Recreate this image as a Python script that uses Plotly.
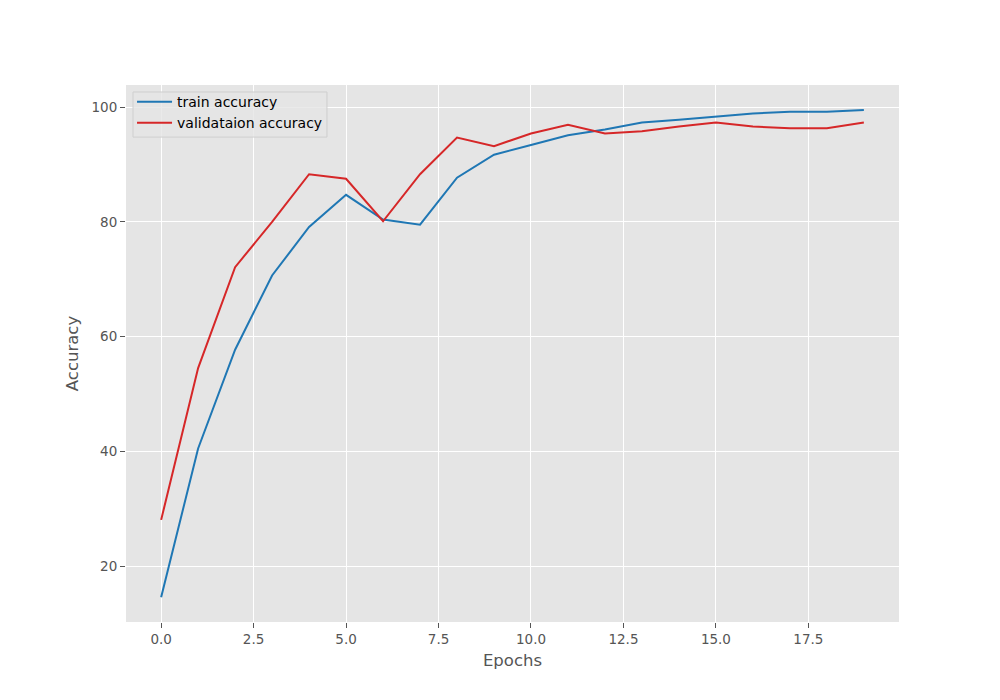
import plotly.graph_objects as go

epochs = list(range(20))
train_acc = [14.55, 40.5, 57.7, 70.65, 79.1, 84.7, 80.4, 79.5, 87.7, 91.7,
             93.4, 95.1, 96.1, 97.3, 97.8, 98.3, 98.9, 99.2, 99.2, 99.5]
val_acc = [28.05, 54.5, 72.1, 80.0, 88.3, 87.5, 80.1, 88.3, 94.7, 93.2,
           95.4, 96.9, 95.4, 95.8, 96.6, 97.3, 96.6, 96.3, 96.3, 97.3]
x_ticks = [0, 2.5, 5, 7.5, 10, 12.5, 15, 17.5]
y_ticks = [20, 40, 60, 80, 100]

fig = go.Figure()
fig.add_trace(go.Scatter(x=epochs, y=train_acc, mode="lines", name="train accuracy",
                         line=dict(color="#1f77b4", width=2)))
fig.add_trace(go.Scatter(x=epochs, y=val_acc, mode="lines", name="validataion accuracy",
                         line=dict(color="#d62728", width=2)))

# legend frame (matplotlib-style box behind the legend entries)
fig.add_shape(type="rect", xref="paper", yref="paper",
              x0=0.00906, x1=0.260, y0=0.903, y1=0.987,
              fillcolor="rgba(229,229,229,0.8)", line=dict(color="#CFCFCF", width=1),
              layer="above")

fig.update_layout(
    width=1000, height=700,
    margin=dict(l=118, r=109, t=77, b=86),
    paper_bgcolor="white",
    plot_bgcolor="#E5E5E5",
    font=dict(family="DejaVu Sans", color="#555555", size=14),
    showlegend=True,
    legend=dict(x=0.0078, y=0.998, xanchor="left", yanchor="top",
                bgcolor="rgba(0,0,0,0)", borderwidth=0,
                font=dict(family="DejaVu Sans", size=14, color="black"),
                itemwidth=35),
)
fig.update_xaxes(
    range=[-0.95, 19.95], tickvals=x_ticks, ticktext=[f"{v:.1f}" for v in x_ticks],
    showgrid=True, gridcolor="white", gridwidth=1, zeroline=False,
    ticks="outside", ticklen=5, tickcolor="#555555", tickwidth=1,
    tickfont=dict(size=13.5, color="#555555"),
    title=dict(text="Epochs", font=dict(size=16.5, color="#555555"), standoff=8),
    showline=False,
)
fig.update_yaxes(
    range=[10.25, 103.85], tickvals=y_ticks,
    showgrid=True, gridcolor="white", gridwidth=1, zeroline=False,
    ticks="outside", ticklen=5, tickcolor="#555555", tickwidth=1,
    tickfont=dict(size=13.5, color="#555555"),
    title=dict(text="Accuracy", font=dict(size=16.5, color="#555555"), standoff=8),
    showline=False,
)

fig.write_html("out.html")
